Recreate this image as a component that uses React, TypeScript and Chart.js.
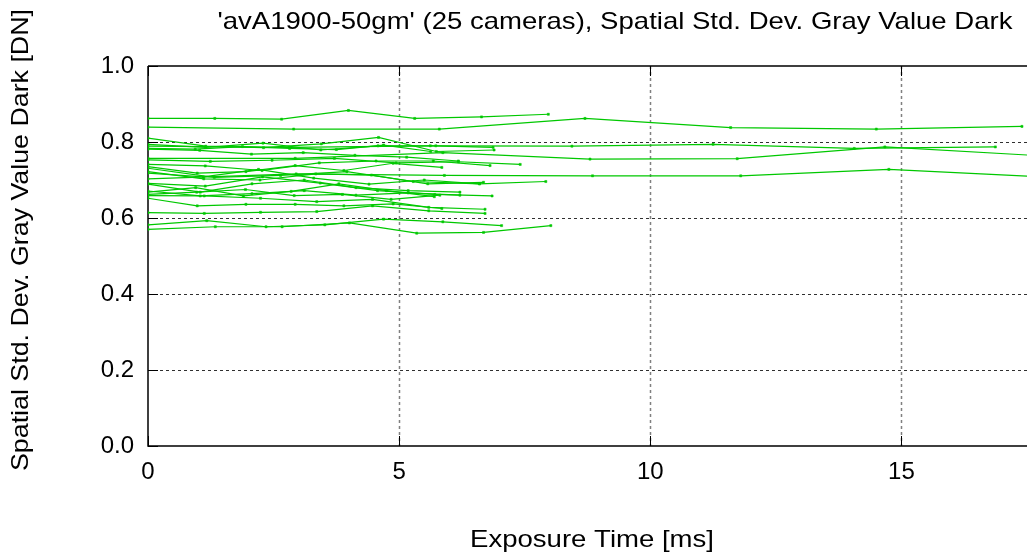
import React, { useEffect, useRef } from "react";
import { Chart, registerables } from "chart.js";

Chart.register(...registerables);

const titleText = "'avA1900-50gm' (25 cameras), Spatial Std. Dev. Gray Value Dark";
const xTitle = "Exposure Time [ms]";
const yTitle = "Spatial Std. Dev. Gray Value Dark [DN]";
const xTicks = [0, 5, 10, 15];
const yTicks = [0, 0.2, 0.4, 0.6, 0.8, 1.0];

const cam01_t = [0, 1.33, 2.66, 3.99, 5.31, 6.64, 7.97];
const cam01_v = [0.862, 0.862, 0.86, 0.883, 0.862, 0.866, 0.873];
const cam02_t = [0, 2.9, 5.8, 8.7, 11.6, 14.5, 17.4];
const cam02_v = [0.839, 0.834, 0.834, 0.862, 0.838, 0.834, 0.841];
const cam03_t = [0, 2.81, 5.62, 8.44, 11.25, 14.06, 16.87];
const cam03_v = [0.789, 0.786, 0.79, 0.789, 0.794, 0.783, 0.787];
const cam04_t = [0, 2.93, 5.87, 8.8, 11.73, 14.67, 17.6];
const cam04_v = [0.757, 0.757, 0.772, 0.755, 0.756, 0.787, 0.765];
const cam05_t = [0, 2.95, 5.9, 8.85, 11.8, 14.75, 17.7];
const cam05_v = [0.703, 0.716, 0.712, 0.711, 0.711, 0.728, 0.709];
const cam06_t = [0, 1.15, 2.29, 3.44, 4.58, 5.73, 6.87];
const cam06_v = [0.794, 0.786, 0.797, 0.779, 0.79, 0.79, 0.786];
const cam07_t = [0, 1.15, 2.3, 3.45, 4.59, 5.74, 6.89];
const cam07_v = [0.81, 0.789, 0.785, 0.795, 0.812, 0.775, 0.779];
const cam08_t = [0, 0.94, 1.88, 2.82, 3.75, 4.69, 5.63];
const cam08_v = [0.783, 0.781, 0.788, 0.783, 0.78, 0.792, 0.775];
const cam09_t = [0, 1.03, 2.06, 3.09, 4.12, 5.15, 6.18];
const cam09_v = [0.781, 0.778, 0.768, 0.772, 0.765, 0.76, 0.75];
const cam10_t = [0, 1.24, 2.47, 3.71, 4.94, 6.18, 7.41];
const cam10_v = [0.753, 0.749, 0.752, 0.757, 0.745, 0.748, 0.741];
const cam11_t = [0, 1.14, 2.27, 3.41, 4.54, 5.68, 6.81];
const cam11_v = [0.741, 0.737, 0.725, 0.745, 0.75, 0.75, 0.738];
const cam12_t = [0, 0.98, 1.95, 2.93, 3.9, 4.88, 5.85];
const cam12_v = [0.735, 0.718, 0.722, 0.738, 0.725, 0.744, 0.733];
const cam13_t = [0, 1.32, 2.64, 3.96, 5.28, 6.6, 7.92];
const cam13_v = [0.731, 0.707, 0.712, 0.722, 0.696, 0.69, 0.696];
const cam14_t = [0, 1.11, 2.23, 3.34, 4.45, 5.57, 6.68];
const cam14_v = [0.722, 0.703, 0.7, 0.716, 0.713, 0.69, 0.694];
const cam15_t = [0, 1.1, 2.2, 3.3, 4.4, 5.5, 6.6];
const cam15_v = [0.718, 0.708, 0.728, 0.705, 0.689, 0.7, 0.69];
const cam16_t = [0, 1.14, 2.28, 3.43, 4.57, 5.71, 6.85];
const cam16_v = [0.691, 0.684, 0.708, 0.692, 0.672, 0.662, 0.658];
const cam17_t = [0, 1.04, 2.07, 3.11, 4.14, 5.18, 6.21];
const cam17_v = [0.689, 0.668, 0.69, 0.7, 0.68, 0.672, 0.668];
const cam18_t = [0, 1.04, 2.07, 3.11, 4.14, 5.18, 6.21];
const cam18_v = [0.671, 0.658, 0.664, 0.672, 0.66, 0.666, 0.66];
const cam19_t = [0, 0.95, 1.9, 2.85, 3.8, 4.75, 5.7];
const cam19_v = [0.668, 0.68, 0.658, 0.67, 0.69, 0.672, 0.656];
const cam20_t = [0, 0.97, 1.94, 2.91, 3.87, 4.84, 5.81];
const cam20_v = [0.662, 0.668, 0.675, 0.659, 0.662, 0.649, 0.66];
const cam21_t = [0, 1.12, 2.24, 3.36, 4.47, 5.59, 6.71];
const cam21_v = [0.659, 0.658, 0.652, 0.643, 0.649, 0.628, 0.623];
const cam22_t = [0, 0.98, 1.95, 2.93, 3.9, 4.88, 5.85];
const cam22_v = [0.652, 0.632, 0.636, 0.636, 0.632, 0.637, 0.625];
const cam23_t = [0, 1.12, 2.24, 3.36, 4.47, 5.59, 6.71];
const cam23_v = [0.614, 0.612, 0.615, 0.617, 0.632, 0.619, 0.612];
const cam24_t = [0, 1.17, 2.35, 3.52, 4.69, 5.87, 7.04];
const cam24_v = [0.582, 0.593, 0.577, 0.582, 0.597, 0.59, 0.58];
const cam25_t = [0, 1.34, 2.67, 4.01, 5.35, 6.68, 8.02];
const cam25_v = [0.57, 0.577, 0.577, 0.587, 0.56, 0.562, 0.58];

const cameras: [number[], number[]][] = [
  [cam01_t, cam01_v], [cam02_t, cam02_v], [cam03_t, cam03_v], [cam04_t, cam04_v],
  [cam05_t, cam05_v], [cam06_t, cam06_v], [cam07_t, cam07_v], [cam08_t, cam08_v],
  [cam09_t, cam09_v], [cam10_t, cam10_v], [cam11_t, cam11_v], [cam12_t, cam12_v],
  [cam13_t, cam13_v], [cam14_t, cam14_v], [cam15_t, cam15_v], [cam16_t, cam16_v],
  [cam17_t, cam17_v], [cam18_t, cam18_v], [cam19_t, cam19_v], [cam20_t, cam20_v],
  [cam21_t, cam21_v], [cam22_t, cam22_v], [cam23_t, cam23_v], [cam24_t, cam24_v],
  [cam25_t, cam25_v],
];

const FONT = "'Liberation Sans', Arial, Helvetica, sans-serif";
const GREEN = "#00c800";

const framePlugin = {
  id: "frame",
  beforeDatasetsDraw(chart: any) {
    const { ctx, chartArea: a, scales } = chart;
    const x = scales.x;
    const y = scales.y;
    ctx.save();
    ctx.lineWidth = 1;
    ctx.setLineDash([3, 3]);
    ctx.strokeStyle = "#303030";
    y.ticks.forEach((t: any) => {
      if (t.value <= 0 || t.value >= 1) return;
      const py = Math.round(y.getPixelForValue(t.value)) + 0.5;
      ctx.beginPath();
      ctx.moveTo(a.left, py);
      ctx.lineTo(a.right, py);
      ctx.stroke();
    });
    ctx.strokeStyle = "#808080";
    ctx.lineWidth = 1.5;
    x.ticks.forEach((t: any) => {
      if (t.value <= 0) return;
      const px = Math.round(x.getPixelForValue(t.value)) + 0.5;
      ctx.beginPath();
      ctx.moveTo(px, a.top);
      ctx.lineTo(px, a.bottom);
      ctx.stroke();
    });
    ctx.setLineDash([]);
    ctx.strokeStyle = "#000";
    ctx.lineWidth = 1;
    const tl = 10;
    y.ticks.forEach((t: any) => {
      const py = Math.round(y.getPixelForValue(t.value)) + 0.5;
      ctx.beginPath();
      ctx.moveTo(a.left, py);
      ctx.lineTo(a.left + tl, py);
      ctx.stroke();
    });
    x.ticks.forEach((t: any) => {
      const px = Math.round(x.getPixelForValue(t.value)) + 0.5;
      ctx.beginPath();
      ctx.moveTo(px, a.bottom);
      ctx.lineTo(px, a.bottom - tl);
      ctx.moveTo(px, a.top);
      ctx.lineTo(px, a.top + tl);
      ctx.stroke();
    });
    ctx.lineWidth = 1.5;
    ctx.beginPath();
    ctx.moveTo(a.left, a.top);
    ctx.lineTo(a.right, a.top);
    ctx.moveTo(a.left, a.top);
    ctx.lineTo(a.left, a.bottom);
    ctx.lineTo(a.right, a.bottom);
    ctx.stroke();
    ctx.restore();
  },
  afterDraw(chart: any) {
    const { ctx } = chart;
    ctx.save();
    ctx.fillStyle = "#000";
    ctx.textAlign = "center";
    ctx.textBaseline = "middle";
    ctx.font = `24px ${FONT}`;
    const tw = ctx.measureText(titleText).width;
    ctx.save();
    ctx.translate(615, 22);
    ctx.scale(795 / tw, 1);
    ctx.fillText(titleText, 0, 0);
    ctx.restore();
    const xw = ctx.measureText(xTitle).width;
    ctx.save();
    ctx.translate(592, 540);
    ctx.scale(244 / xw, 1);
    ctx.fillText(xTitle, 0, 0);
    ctx.restore();
    const yw = ctx.measureText(yTitle).width;
    ctx.save();
    ctx.translate(21, 240);
    ctx.rotate(-Math.PI / 2);
    ctx.scale(462 / yw, 1);
    ctx.fillText(yTitle, 0, 0);
    ctx.restore();
    ctx.restore();
  },
};

export default function App() {
  const ref = useRef<HTMLCanvasElement | null>(null);
  useEffect(() => {
    document.body.style.margin = "0";
    const canvas = ref.current;
    if (!canvas) return;
    const datasets = cameras.map(([ts, vs], i) => ({
      label: `cam${i + 1}`,
      data: ts.map((t, k) => ({ x: t, y: vs[k] })),
      borderColor: GREEN,
      backgroundColor: GREEN,
      borderWidth: 1.2,
      pointRadius: 1.5,
      pointStyle: "rect" as const,
      pointBorderWidth: 0.5,
      tension: 0,
      fill: false,
    }));
    const chart = new Chart(canvas, {
      type: "line",
      data: { datasets },
      options: {
        animation: false,
        responsive: false,
        maintainAspectRatio: false,
        layout: { autoPadding: false, padding: { left: 0, right: 0, top: 66, bottom: 0 } },
        plugins: { legend: { display: false }, tooltip: { enabled: false }, title: { display: false } },
        scales: {
          x: {
            type: "linear",
            min: 0,
            max: 17.5,
            afterBuildTicks: (s: any) => { s.ticks = xTicks.map((v) => ({ value: v })); },
            afterFit: (s: any) => { s.height = 110; s.paddingLeft = 0; s.paddingRight = 0; },
            grid: { display: false, drawTicks: false },
            border: { display: false },
            ticks: {
              color: "#000",
              font: { family: FONT, size: 24 },
              padding: 12,
              maxRotation: 0,
              callback: (v: any) => String(v),
            },
          },
          y: {
            type: "linear",
            min: 0,
            max: 1,
            afterBuildTicks: (s: any) => { s.ticks = yTicks.map((v) => ({ value: v })); },
            afterFit: (s: any) => { s.width = 148; s.paddingTop = 0; s.paddingBottom = 0; },
            grid: { display: false, drawTicks: false },
            border: { display: false },
            ticks: {
              color: "#000",
              font: { family: FONT, size: 24 },
              padding: 14,
              callback: (v: any) => Number(v).toFixed(1),
            },
          },
        },
      },
      plugins: [framePlugin],
    });
    return () => chart.destroy();
  }, []);
  return (
    <div style={{ position: "fixed", left: 0, top: 0, width: 1027, height: 556, background: "#fff" }}>
      <canvas ref={ref} width={1027} height={556} style={{ width: 1027, height: 556, display: "block" }} />
    </div>
  );
}
